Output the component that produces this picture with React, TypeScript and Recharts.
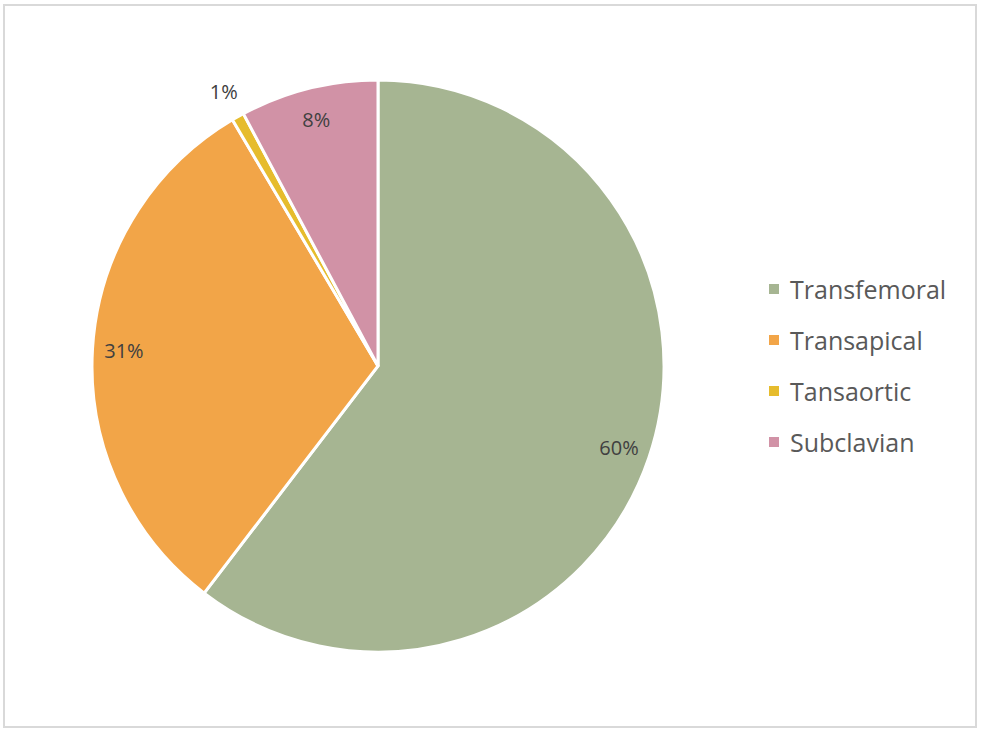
import { PieChart, Pie, Cell, Legend } from 'recharts';

const routes = ['Transfemoral', 'Transapical', 'Tansaortic', 'Subclavian'];
const shares = [60.4, 31.1, 0.7, 7.8];
const colors = ['#a6b592', '#f2a548', '#e6bc2d', '#d192a6'];

const data = routes.map((name, i) => ({ name, value: shares[i] }));

const RADIAN = Math.PI / 180;

const renderLabel = ({ cx, cy, midAngle, outerRadius, percent }: any) => {
  // tiny slices get their label outside, like Excel's best fit
  const r = outerRadius * (percent < 0.02 ? 1.1 : 0.89);
  const x = cx + r * Math.cos(-midAngle * RADIAN);
  const y = cy + r * Math.sin(-midAngle * RADIAN);
  return (
    <text x={x} y={y} fill="#404040" fontSize={20} fontFamily="Open Sans, sans-serif" textAnchor="middle" dominantBaseline="central">
      {`${Math.round(percent * 100)}%`}
    </text>
  );
};

// legend keeps the data order (top to bottom)
const renderLegend = () => (
  <div style={{ fontFamily: 'Open Sans, sans-serif' }}>
    {routes.map((name, i) => (
      <div key={name} style={{ display: 'flex', alignItems: 'center', height: 51 }}>
        <span style={{ width: 10, height: 10, background: colors[i], marginRight: 11 }} />
        <span style={{ fontSize: 25, color: '#595959' }}>{name}</span>
      </div>
    ))}
  </div>
);

export default function App() {
  return (
    <div
      style={{
        position: 'absolute',
        left: 3,
        top: 4,
        width: 974,
        height: 724,
        border: '2px solid #d9d9d9',
        boxSizing: 'border-box',
        background: '#fff',
      }}
    >
      <PieChart width={970} height={720}>
        <Pie
          data={data}
          dataKey="value"
          nameKey="name"
          cx={368}
          cy={355}
          outerRadius={286}
          startAngle={90}
          endAngle={-270}
          stroke="#ffffff"
          strokeWidth={3}
          label={renderLabel}
          labelLine={false}
          isAnimationActive={false}
        >
          {data.map((d, i) => (
            <Cell key={d.name} fill={colors[i]} />
          ))}
        </Pie>
        <Legend
          layout="vertical"
          content={renderLegend}
          wrapperStyle={{ left: 764, top: 257, width: 210 }}
        />
      </PieChart>
    </div>
  );
}
